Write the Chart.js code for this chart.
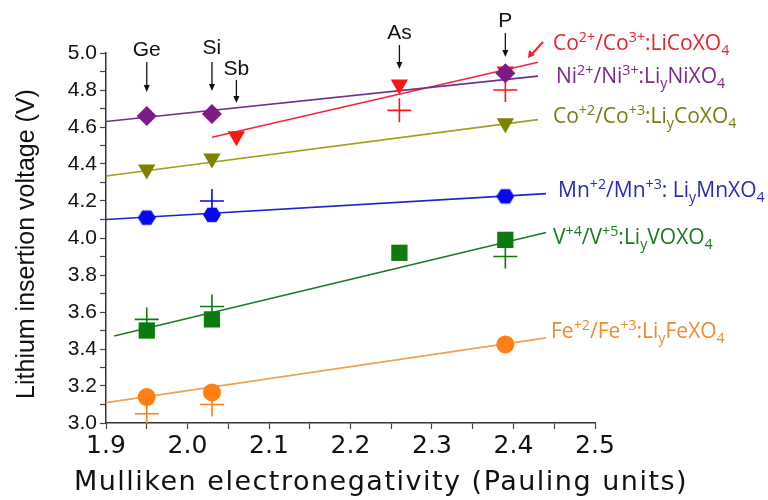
<!DOCTYPE html>
<html>
<head>
<meta charset="utf-8">
<script src="https://cdn.jsdelivr.net/npm/chart.js@4.4.1/dist/chart.umd.min.js"></script>
<style>
  html, body { margin: 0; padding: 0; background: #fff; }
  #c { display: block; }
</style>
</head>
<body>
<canvas id="c" width="768" height="500"></canvas>
<script>
// ---- data ----
const elemNames = ['Ge', 'Si', 'Sb', 'As', 'P'];
const elemX = [1.95, 2.03, 2.06, 2.26, 2.39];

// Ni2+/Ni3+ (diamonds)
const niX = [1.95, 2.03, 2.39];
const niY = [4.66, 4.67, 4.89];
const niFitX = [1.90, 2.43];
const niFitY = [4.63, 4.875];

// Co2+/Co3+ LiCoXO4 (red down triangles + crosses)
const coX = [2.06, 2.26, 2.39];
const coY = [4.55, 4.83, 4.90];
const coCrossX = [2.26, 2.39];
const coCrossY = [4.69, 4.80];
const coFitX = [2.03, 2.43];
const coFitY = [4.545, 4.95];

// Co+2/Co+3 LiyCoXO4 (olive down triangles)
const coyX = [1.95, 2.03, 2.39];
const coyY = [4.37, 4.43, 4.62];
const coyFitX = [1.90, 2.43];
const coyFitY = [4.335, 4.64];

// Mn+2/Mn+3 (hexagons)
const mnX = [1.95, 2.03, 2.39];
const mnY = [4.11, 4.125, 4.225];
const mnCrossX = [2.03];
const mnCrossY = [4.20];
const mnFitX = [1.90, 2.44];
const mnFitY = [4.10, 4.24];

// V+4/V+5 (squares)
const vX = [1.95, 2.03, 2.26, 2.39];
const vY = [3.50, 3.56, 3.92, 3.99];
const vCrossX = [1.95, 2.03, 2.39];
const vCrossY = [3.56, 3.63, 3.90];
const vFitX = [1.91, 2.44];
const vFitY = [3.47, 4.03];

// Fe+2/Fe+3 (circles)
const feX = [1.95, 2.03, 2.39];
const feY = [3.14, 3.165, 3.425];
const feCrossX = [1.95, 2.03];
const feCrossY = [3.05, 3.10];
const feFitX = [1.90, 2.44];
const feFitY = [3.11, 3.46];

// ---- helpers ----
function pts(xs, ys) {
  return xs.map((x, i) => ({ x: x, y: ys[i] }));
}

function hexagon(size, color) {
  const cv = document.createElement('canvas');
  cv.width = size; cv.height = size;
  const g = cv.getContext('2d');
  const r = size / 2;
  g.fillStyle = color;
  g.beginPath();
  for (let k = 0; k < 6; k++) {
    const a = k * Math.PI / 3;
    const px = r + r * Math.cos(a), py = r + r * 0.92 * Math.sin(a);
    if (k === 0) g.moveTo(px, py); else g.lineTo(px, py);
  }
  g.closePath();
  g.fill();
  return cv;
}

function marks(xs, ys, style, color, radius, rotation) {
  return {
    data: pts(xs, ys),
    pointStyle: style,
    pointRadius: radius,
    pointRotation: rotation || 0,
    backgroundColor: color,
    borderColor: color,
    borderWidth: style === 'cross' ? 1.6 : 0,
    showLine: false
  };
}

function fit(xs, ys, color) {
  return {
    data: pts(xs, ys),
    showLine: true,
    borderColor: color,
    borderWidth: 1.6,
    pointRadius: 0,
    fill: false
  };
}

const C = {
  ni: '#7d1b86', co: '#ff1414', coy: '#7f7f00', mn: '#0808f0', v: '#0c7a0c', fe: '#ff8012'
};

const datasets = [
  marks(niX, niY, 'rectRot', C.ni, 10),
  marks(coX, coY, 'triangle', C.co, 10, 180),
  marks(coyX, coyY, 'triangle', C.coy, 10, 180),
  marks(mnX, mnY, hexagon(18, C.mn), C.mn, 9),
  marks(vX, vY, 'rect', C.v, 11.5),
  marks(feX, feY, 'circle', C.fe, 9),
  marks(coCrossX, coCrossY, 'cross', C.co, 12),
  marks(mnCrossX, mnCrossY, 'cross', C.mn, 12),
  marks(vCrossX, vCrossY, 'cross', C.v, 12),
  marks(feCrossX, feCrossY, 'cross', C.fe, 12),
  fit(niFitX, niFitY, '#6e3090'),
  fit(coFitX, coFitY, '#f02838'),
  fit(coyFitX, coyFitY, '#a0a018'),
  fit(mnFitX, mnFitY, '#2222c8'),
  fit(vFitX, vFitY, '#1a7a28'),
  fit(feFitX, feFitY, '#f0a050')
];

// right-hand labels: [text, 'n'|'sup'|'sub']
const seriesLabels = [
  { color: '#e8232f', y: 43, x: 553, parts: [['Co', 'n'], ['2+', 'sup'], ['/Co', 'n'], ['3+', 'sup'], [':LiCoXO', 'n'], ['4', 'sub']] },
  { color: '#7a2a8a', y: 76, x: 556, parts: [['Ni', 'n'], ['2+', 'sup'], ['/Ni', 'n'], ['3+', 'sup'], [':Li', 'n'], ['y', 'sub'], ['NiXO', 'n'], ['4', 'sub']] },
  { color: '#7a7a10', y: 116, x: 553, parts: [['Co', 'n'], ['+2', 'sup'], ['/Co', 'n'], ['+3', 'sup'], [':Li', 'n'], ['y', 'sub'], ['CoXO', 'n'], ['4', 'sub']] },
  { color: '#2a2ac0', y: 190, x: 558, parts: [['Mn', 'n'], ['+2', 'sup'], ['/Mn', 'n'], ['+3', 'sup'], [': Li', 'n'], ['y', 'sub'], ['MnXO', 'n'], ['4', 'sub']] },
  { color: '#1a7a1a', y: 237, x: 553, parts: [['V', 'n'], ['+4', 'sup'], ['/V', 'n'], ['+5', 'sup'], [':Li', 'n'], ['y', 'sub'], ['VOXO', 'n'], ['4', 'sub']] },
  { color: '#f08a30', y: 331, x: 551, parts: [['Fe', 'n'], ['+2', 'sup'], ['/Fe', 'n'], ['+3', 'sup'], [':Li', 'n'], ['y', 'sub'], ['FeXO', 'n'], ['4', 'sub']] }
];

// element arrows: text y, arrow top, arrow bottom (px)
const elemTextY = [50, 48, 69, 33, 21];
const elemArrow = [[62, 92], [62, 91], [80, 103], [45, 69], [33, 57]];

function drawRich(ctx, x, y, parts, color, size) {
  ctx.fillStyle = color;
  ctx.textBaseline = 'alphabetic';
  ctx.textAlign = 'left';
  let cx = x;
  parts.forEach(p => {
    const small = p[1] !== 'n';
    const fs = small ? size * 0.68 : size;
    ctx.font = fs + 'px "Open Sans"';
    let dy = 0;
    if (p[1] === 'sup') dy = -size * 0.36;
    if (p[1] === 'sub') dy = size * 0.22;
    ctx.fillText(p[0], cx, y + dy);
    cx += ctx.measureText(p[0]).width;
  });
}

function arrowDown(ctx, x, y1, y2) {
  ctx.beginPath();
  ctx.moveTo(x, y1);
  ctx.lineTo(x, y2 - 4);
  ctx.stroke();
  ctx.beginPath();
  ctx.moveTo(x - 3, y2 - 7);
  ctx.lineTo(x + 3, y2 - 7);
  ctx.lineTo(x, y2);
  ctx.closePath();
  ctx.fill();
}

const annotations = {
  id: 'annotations',
  afterDraw(chart) {
    const ctx = chart.ctx;
    const xs = chart.scales.x;
    ctx.save();

    // element labels + arrows
    ctx.fillStyle = '#111';
    ctx.strokeStyle = '#111';
    ctx.lineWidth = 1.3;
    elemNames.forEach((name, i) => {
      const px = xs.getPixelForValue(elemX[i]);
      ctx.font = '21px "Liberation Sans"';
      ctx.textAlign = 'center';
      ctx.textBaseline = 'middle';
      ctx.fillText(name, px, elemTextY[i]);
      arrowDown(ctx, px, elemArrow[i][0], elemArrow[i][1]);
    });

    // series labels
    seriesLabels.forEach(l => {
      drawRich(ctx, l.x, l.y + 7, l.parts, l.color, 21);
    });

    // small red pointer arrow to the LiCoXO4 line
    ctx.strokeStyle = '#e8232f';
    ctx.fillStyle = '#e8232f';
    ctx.lineWidth = 2;
    ctx.beginPath();
    ctx.moveTo(543, 42);
    ctx.lineTo(532, 54);
    ctx.stroke();
    ctx.beginPath();
    ctx.moveTo(528, 58);
    ctx.lineTo(529, 50);
    ctx.lineTo(535, 55);
    ctx.closePath();
    ctx.fill();

    // axis titles
    ctx.fillStyle = '#111';
    ctx.textAlign = 'center';
    ctx.textBaseline = 'middle';
    ctx.font = '27px "DejaVu Sans"';
    ctx.letterSpacing = '1.5px';
    ctx.fillText('Mulliken electronegativity (Pauling units)', 381, 483);
    ctx.letterSpacing = '0px';
    ctx.translate(27, 244);
    ctx.rotate(-Math.PI / 2);
    ctx.font = '25px "Liberation Sans"';
    ctx.fillText('Lithium insertion voltage (V)', 0, 0);
    ctx.restore();
  }
};

new Chart(document.getElementById('c'), {
  type: 'scatter',
  data: { datasets: datasets },
  options: {
    responsive: false,
    animation: false,
    devicePixelRatio: 1,
    layout: { padding: { left: 0, right: 173, top: 53, bottom: 0 } },
    plugins: { legend: { display: false }, tooltip: { enabled: false } },
    scales: {
      x: {
        type: 'linear',
        min: 1.9,
        max: 2.5,
        afterFit: s => { s.height = 77; },
        border: { display: true, color: '#333', width: 1.5 },
        grid: { drawOnChartArea: false, drawTicks: true, tickLength: 6, color: '#444', tickWidth: 1.2 },
        ticks: {
          stepSize: 0.05,
          padding: 2,
          color: '#111',
          font: { family: 'DejaVu Sans', size: 25 },
          maxRotation: 0,
          autoSkip: false,
          callback: v => {
            const k = Math.round(v * 100);
            return k % 10 === 0 ? (k / 100).toFixed(1) : '';
          }
        }
      },
      y: {
        type: 'linear',
        min: 3.0,
        max: 5.0,
        afterFit: s => { s.width = 106; },
        border: { display: true, color: '#333', width: 1.5 },
        grid: { drawOnChartArea: false, drawTicks: true, tickLength: 6, color: '#444', tickWidth: 1.2 },
        ticks: {
          stepSize: 0.1,
          padding: 3,
          color: '#111',
          font: { family: 'Liberation Sans', size: 21 },
          autoSkip: false,
          callback: v => {
            const k = Math.round(v * 10);
            return k % 2 === 0 ? (k / 10).toFixed(1) : '';
          }
        }
      }
    }
  },
  plugins: [annotations]
});
</script>
</body>
</html>
